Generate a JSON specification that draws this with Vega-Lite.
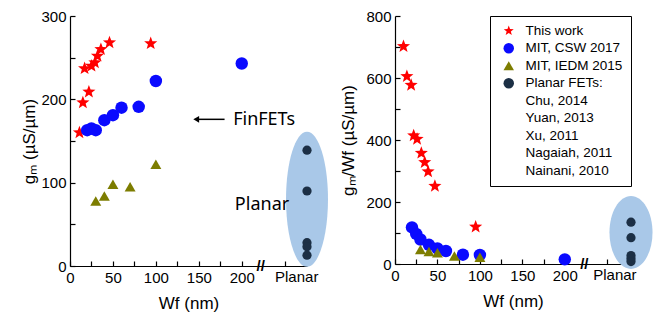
{
  "$schema": "https://vega.github.io/schema/vega-lite/v6.json",
  "padding": {"left": 13, "top": 9, "right": 0, "bottom": 0},
  "autosize": {"type": "pad"},
  "background": "white",
  "config": {
    "view": {"stroke": null},
    "axis": {
      "domainColor": "black", "tickColor": "black", "labelColor": "black", "titleColor": "black",
      "grid": false, "labelFont": "Liberation Sans", "labelFontSize": 15,
      "titleFont": "Liberation Sans", "titleFontSize": 17, "titleFontWeight": "normal",
      "tickSize": -5, "domainWidth": 1.2, "tickWidth": 1.2
    }
  },
  "spacing": 11,
  "resolve": {
    "scale": {"color": "independent", "shape": "independent", "size": "independent"},
    "legend": {"color": "independent", "shape": "independent", "size": "independent"}
  },
  "hconcat": [
    {
      "width": 237,
      "height": 250,
      "title": {"text": "(a)", "orient": "bottom", "anchor": "start", "frame": "group", "font": "Liberation Serif", "fontSize": 20, "fontWeight": "normal", "offset": 27, "dx": -57, "color": "black"},
      "encoding": {
        "x": {"field": "w", "type": "quantitative",
          "scale": {"domain": [0, 276], "nice": false, "zero": false},
          "axis": {"values": [0, 25, 50, 75, 100, 125, 150, 175, 200, 250],
            "labelExpr": "datum.value % 50 == 0 && datum.value <= 200 ? datum.label : ''",
            "labelFlush": false, "labelOverlap": false, "labelPadding": 9,
            "title": "Wf (nm)", "titlePadding": 10}},
        "y": {"field": "g", "type": "quantitative",
          "scale": {"domain": [0, 300], "nice": false, "zero": false},
          "axis": {"values": [0, 50, 100, 150, 200, 250, 300],
            "labelExpr": "datum.value % 100 == 0 ? datum.label : ''",
            "labelPadding": 9, "title": "gₘ (µS/µm)", "titlePadding": 2}}
      },
      "layer": [
        {"data": {"values": [{"w": 276, "g": 80}]},
          "mark": {"type": "point", "shape": "M0,-1C0.1718,-1 0.311,-0.5523 0.311,0C0.311,0.5523 0.1718,1 0,1C-0.1718,1 -0.311,0.5523 -0.311,0C-0.311,-0.5523 -0.1718,-1 0,-1Z", "size": 18225, "filled": true, "fill": "#a9c8e8", "opacity": 1, "strokeWidth": 0}},
        {"data": {"values": [
            {"series": "This work", "w": 11, "g": 160},
            {"series": "This work", "w": 15, "g": 196},
            {"series": "This work", "w": 17, "g": 237},
            {"series": "This work", "w": 22, "g": 209},
            {"series": "This work", "w": 25, "g": 240},
            {"series": "This work", "w": 29, "g": 244},
            {"series": "This work", "w": 32, "g": 252},
            {"series": "This work", "w": 36, "g": 260},
            {"series": "This work", "w": 46, "g": 268},
            {"series": "This work", "w": 94, "g": 267},
            {"series": "MIT, CSW 2017", "w": 20, "g": 163},
            {"series": "MIT, CSW 2017", "w": 25, "g": 165},
            {"series": "MIT, CSW 2017", "w": 30, "g": 163},
            {"series": "MIT, CSW 2017", "w": 40, "g": 175},
            {"series": "MIT, CSW 2017", "w": 50, "g": 181},
            {"series": "MIT, CSW 2017", "w": 60, "g": 190},
            {"series": "MIT, CSW 2017", "w": 80, "g": 191},
            {"series": "MIT, CSW 2017", "w": 100, "g": 222},
            {"series": "MIT, CSW 2017", "w": 200, "g": 243},
            {"series": "MIT, IEDM 2015", "w": 30, "g": 78},
            {"series": "MIT, IEDM 2015", "w": 40, "g": 84},
            {"series": "MIT, IEDM 2015", "w": 50, "g": 98},
            {"series": "MIT, IEDM 2015", "w": 70, "g": 95},
            {"series": "MIT, IEDM 2015", "w": 100, "g": 122},
            {"series": "Planar FETs:", "w": 276, "g": 139},
            {"series": "Planar FETs:", "w": 276, "g": 90},
            {"series": "Planar FETs:", "w": 276, "g": 28},
            {"series": "Planar FETs:", "w": 276, "g": 23},
            {"series": "Planar FETs:", "w": 276, "g": 13}
          ]},
          "mark": {"type": "point", "filled": true, "opacity": 1, "strokeWidth": 0},
          "encoding": {
            "color": {"field": "series", "type": "nominal", "legend": null,
              "scale": {"domain": ["This work", "MIT, CSW 2017", "MIT, IEDM 2015", "Planar FETs:"], "range": ["#ff0000", "#0a0aff", "#7d7d00", "#1c2f45"]}},
            "shape": {"field": "series", "type": "nominal", "legend": null,
              "scale": {"domain": ["This work", "MIT, CSW 2017", "MIT, IEDM 2015", "Planar FETs:"],
                "range": ["M0,-1L0.247,-0.34L0.951,-0.309L0.399,0.13L0.588,0.809L0,0.42L-0.588,0.809L-0.399,0.13L-0.951,-0.309L-0.247,-0.34Z", "circle", "triangle-up", "circle"]}},
            "size": {"field": "series", "type": "nominal", "legend": null,
              "scale": {"domain": ["This work", "MIT, CSW 2017", "MIT, IEDM 2015", "Planar FETs:"], "range": [190, 85, 120, 75]}}
          }},
        {"data": {"values": [{"w": 147, "w2": 180, "g": 176}]},
          "mark": {"type": "rule", "color": "black", "strokeWidth": 1.5},
          "encoding": {"x2": {"field": "w2"}}},
        {"data": {"values": [{"w": 147, "g": 176}]},
          "mark": {"type": "point", "shape": "triangle-left", "filled": true, "color": "black", "size": 45, "opacity": 1}},
        {"data": {"values": [{"w": 190, "g": 175, "t": "FinFETs"}, {"w": 192, "g": 73, "t": "Planar"}]},
          "mark": {"type": "text", "align": "left", "baseline": "middle", "font": "Noto Sans", "fontSize": 18, "color": "black"},
          "encoding": {"text": {"field": "t"}}},
        {"data": {"values": [{"w": 222, "g": 0, "t": "//"}]},
          "mark": {"type": "text", "align": "center", "baseline": "middle", "font": "Liberation Sans", "fontSize": 15, "fontWeight": "bold", "color": "black"},
          "encoding": {"text": {"field": "t"}}},
        {"data": {"values": [{"w": 264, "g": 0, "t": "Planar"}]},
          "mark": {"type": "text", "align": "center", "baseline": "top", "dy": 4, "font": "Liberation Sans", "fontSize": 15, "color": "black"},
          "encoding": {"text": {"field": "t"}}}
      ]
    },
    {
      "width": 236,
      "height": 248,
      "title": {"text": "(b)", "orient": "bottom", "anchor": "start", "frame": "group", "font": "Liberation Serif", "fontSize": 20, "fontWeight": "normal", "offset": 28, "dx": -48, "color": "black"},
      "encoding": {
        "x": {"field": "w", "type": "quantitative",
          "scale": {"domain": [0, 278], "nice": false, "zero": false},
          "axis": {"values": [0, 25, 50, 75, 100, 125, 150, 175, 200, 250],
            "labelExpr": "datum.value % 50 == 0 && datum.value <= 200 ? datum.label : ''",
            "labelFlush": false, "labelOverlap": false, "labelPadding": 9,
            "title": "Wf (nm)", "titlePadding": 10}},
        "y": {"field": "g", "type": "quantitative",
          "scale": {"domain": [0, 800], "nice": false, "zero": false},
          "axis": {"values": [0, 100, 200, 300, 400, 500, 600, 700, 800],
            "labelExpr": "datum.value % 200 == 0 ? datum.label : ''",
            "labelPadding": 9, "title": "gₘ/Wf (µS/µm)", "titlePadding": 8}}
      },
      "layer": [
        {"data": {"values": [{"w": 278, "g": 102}]},
          "mark": {"type": "point", "shape": "M0,-1C0.3259,-1 0.59,-0.5523 0.59,0C0.59,0.5523 0.3259,1 0,1C-0.3259,1 -0.59,0.5523 -0.59,0C-0.59,-0.5523 -0.3259,-1 0,-1Z", "size": 5329, "filled": true, "fill": "#a9c8e8", "opacity": 1, "strokeWidth": 0}},
        {"data": {"values": [
            {"series": "This work", "w": 10, "g": 702},
            {"series": "This work", "w": 14, "g": 605},
            {"series": "This work", "w": 19, "g": 577},
            {"series": "This work", "w": 22, "g": 414},
            {"series": "This work", "w": 26, "g": 403},
            {"series": "This work", "w": 31, "g": 358},
            {"series": "This work", "w": 35, "g": 328},
            {"series": "This work", "w": 39, "g": 298},
            {"series": "This work", "w": 47, "g": 251},
            {"series": "This work", "w": 95, "g": 120},
            {"series": "MIT, CSW 2017", "w": 20, "g": 118},
            {"series": "MIT, CSW 2017", "w": 25, "g": 97},
            {"series": "MIT, CSW 2017", "w": 30, "g": 79},
            {"series": "MIT, CSW 2017", "w": 40, "g": 62},
            {"series": "MIT, CSW 2017", "w": 50, "g": 50},
            {"series": "MIT, CSW 2017", "w": 60, "g": 42},
            {"series": "MIT, CSW 2017", "w": 80, "g": 30},
            {"series": "MIT, CSW 2017", "w": 100, "g": 29},
            {"series": "MIT, CSW 2017", "w": 200, "g": 15},
            {"series": "MIT, IEDM 2015", "w": 30, "g": 47},
            {"series": "MIT, IEDM 2015", "w": 40, "g": 40},
            {"series": "MIT, IEDM 2015", "w": 50, "g": 36},
            {"series": "MIT, IEDM 2015", "w": 70, "g": 26},
            {"series": "MIT, IEDM 2015", "w": 100, "g": 22},
            {"series": "Planar FETs:", "w": 278, "g": 135},
            {"series": "Planar FETs:", "w": 278, "g": 85},
            {"series": "Planar FETs:", "w": 278, "g": 27},
            {"series": "Planar FETs:", "w": 278, "g": 17},
            {"series": "Planar FETs:", "w": 278, "g": 8}
          ]},
          "mark": {"type": "point", "filled": true, "opacity": 1, "strokeWidth": 0},
          "encoding": {
            "color": {"field": "series", "type": "nominal",
              "scale": {"domain": ["This work", "MIT, CSW 2017", "MIT, IEDM 2015", "Planar FETs:", "Chu, 2014", "Yuan, 2013", "Xu, 2011", "Nagaiah, 2011", "Nainani, 2010"],
                "range": ["#ff0000", "#0a0aff", "#7d7d00", "#1c2f45", "transparent", "transparent", "transparent", "transparent", "transparent"]},
              "legend": {"orient": "top-right", "offset": 0, "title": null, "strokeColor": "black", "fillColor": "white", "padding": 8, "cornerRadius": 0,
                "labelFont": "Liberation Sans", "labelFontSize": 13.5, "labelColor": "black", "symbolSize": 110, "symbolStrokeWidth": 0, "rowPadding": 2.5, "labelOffset": 10, "symbolOffset": 4}},
            "shape": {"field": "series", "type": "nominal",
              "scale": {"domain": ["This work", "MIT, CSW 2017", "MIT, IEDM 2015", "Planar FETs:", "Chu, 2014", "Yuan, 2013", "Xu, 2011", "Nagaiah, 2011", "Nainani, 2010"],
                "range": ["M0,-1L0.247,-0.34L0.951,-0.309L0.399,0.13L0.588,0.809L0,0.42L-0.588,0.809L-0.399,0.13L-0.951,-0.309L-0.247,-0.34Z", "circle", "triangle-up", "circle", "circle", "circle", "circle", "circle", "circle"]},
              "legend": {"orient": "top-right", "offset": 0, "title": null, "strokeColor": "black", "fillColor": "white", "padding": 8, "cornerRadius": 0,
                "labelFont": "Liberation Sans", "labelFontSize": 13.5, "labelColor": "black", "symbolSize": 110, "symbolStrokeWidth": 0, "rowPadding": 2.5, "labelOffset": 10, "symbolOffset": 4}},
            "size": {"field": "series", "type": "nominal", "legend": null,
              "scale": {"domain": ["This work", "MIT, CSW 2017", "MIT, IEDM 2015", "Planar FETs:"], "range": [190, 85, 120, 75]}}
          }},
        {"data": {"values": [{"w": 223, "g": 0, "t": "//"}]},
          "mark": {"type": "text", "align": "center", "baseline": "middle", "font": "Liberation Sans", "fontSize": 15, "fontWeight": "bold", "color": "black"},
          "encoding": {"text": {"field": "t"}}},
        {"data": {"values": [{"w": 259, "g": 0, "t": "Planar"}]},
          "mark": {"type": "text", "align": "center", "baseline": "top", "dy": 4, "font": "Liberation Sans", "fontSize": 15, "color": "black"},
          "encoding": {"text": {"field": "t"}}}
      ]
    }
  ]
}
